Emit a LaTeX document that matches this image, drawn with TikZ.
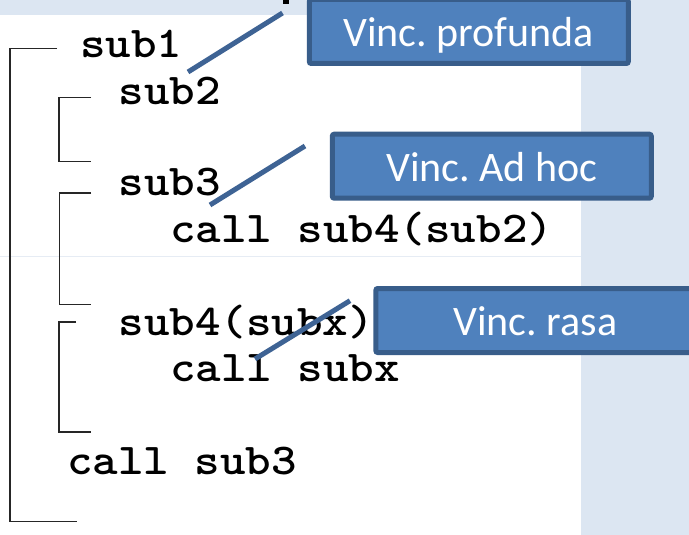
\documentclass[tikz,border=0pt]{standalone}
\usepackage{fontspec}
\usepackage{graphicx}
\newfontfamily\boxfont{Carlito}
\newcommand\mycode[1]{\scalebox{1.105}[1]{#1}}
\definecolor{bgblue}{RGB}{220,230,242}
\definecolor{boxfill}{RGB}{79,129,189}
\definecolor{boxedge}{RGB}{56,93,138}
\definecolor{linkblue}{RGB}{62,99,148}
\definecolor{faintline}{RGB}{230,236,244}
\tikzset{
  codetext/.style={anchor=base west, inner sep=0pt, font=\ttfamily\bfseries\fontsize{44}{44}\selectfont},
  bracket/.style={draw=black!85, line width=1.5pt},
  callout/.style={draw=boxedge, fill=boxfill, line width=5pt, rounded corners=2pt,
    minimum width=319pt, minimum height=64pt, inner sep=0pt,
    text=white, font=\boxfont\frenchspacing\fontsize{42}{42}\selectfont, text height=30pt, text depth=0pt},
  link/.style={draw=linkblue, line width=5pt}
}
\begin{document}
\begin{tikzpicture}[x=1pt,y=-1pt]
\useasboundingbox (0,0) rectangle (689,535);
% background
\fill[bgblue] (0,0) rectangle (689,535);
\fill[white] (0,15) rectangle (581,535);
\draw[faintline, line width=1pt] (0,256.5) -- (581,256.5);
\fill[black] (283,0) rectangle (289,4);
% brackets
\draw[bracket] (57,48.5) -- (10,48.5) -- (10,521.5) -- (77,521.5);
\draw[bracket] (91,97.5) -- (59,97.5) -- (59,161.5) -- (91,161.5);
\draw[bracket] (91,193) -- (59.5,193) -- (59.5,304.5) -- (91,304.5);
\draw[bracket] (76,322) -- (59,322) -- (59,432) -- (91,432);
% code
\node[codetext] (s1) at (80,57.3) {\mycode{sub1}};
\node[codetext] (s2) at (118.5,105) {\mycode{sub2}};
\node[codetext] (s3) at (118.5,195.7) {\mycode{sub3}};
\node[codetext] (c4) at (170,242.7) {\mycode{call sub4(sub2)}};
\node[codetext] (s4) at (118.5,335.7) {\mycode{sub4(subx)}};
\node[codetext] (cx) at (170,381.7) {\mycode{call subx}};
\node[codetext] (c3) at (67,474) {\mycode{call sub3}};
% callouts
\node[callout] (prof) at (468.8,31.5) {Vinc. profunda};
\node[callout] (adhoc) at (491.8,166.2) {Vinc. Ad hoc};
\node[callout] (rasa) at (535.3,320.5) {Vinc. rasa};
% connector lines
\coordinate (p1) at (188,72);
\coordinate (p2) at (282.5,13);
\coordinate (a1) at (210,205);
\coordinate (a2) at (305,146);
\coordinate (r1) at (255,359);
\coordinate (r2) at (350,300.7);
\draw[link] (p1) -- (p2);
\draw[link] (a1) -- (a2);
\draw[link] (r1) -- (r2);
\end{tikzpicture}
\end{document}
